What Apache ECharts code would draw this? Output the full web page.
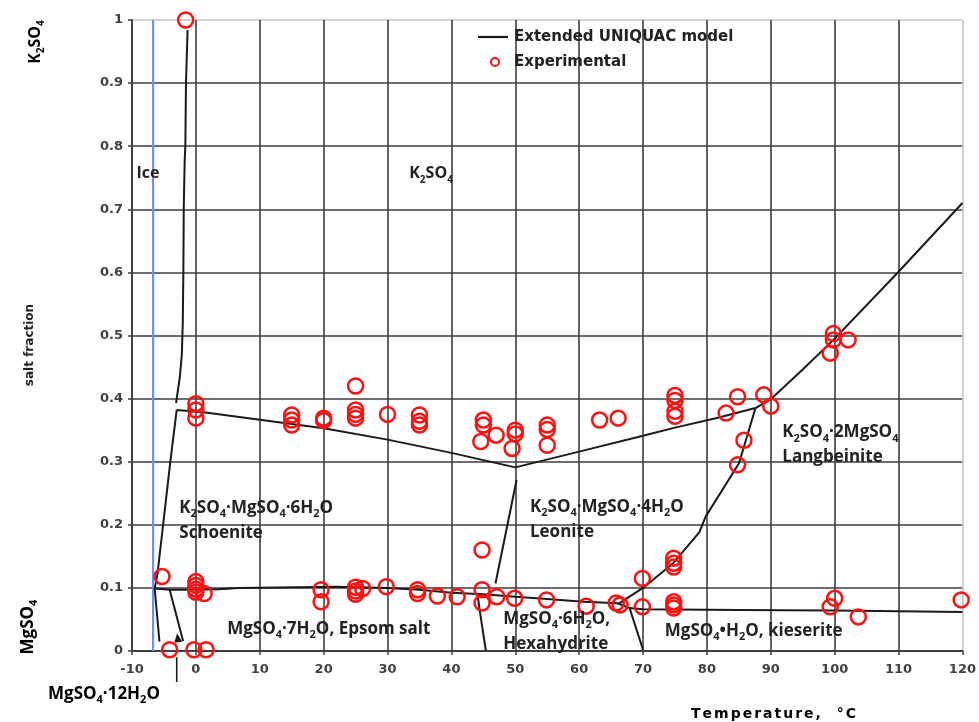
<!DOCTYPE html>
<html>
<head>
<meta charset="utf-8">
<script src="https://cdn.jsdelivr.net/npm/echarts@6/dist/echarts.min.js"></script>
<style>
  html, body { margin: 0; padding: 0; background: #fff; }
  #chart { width: 979px; height: 722px; }
</style>
</head>
<body>
<div id="chart"></div>
<script>
// K2SO4 – MgSO4 – H2O phase diagram: points are [temperature °C, salt fraction]

// Ice saturation line
const iceLine = [[-6.7, 0], [-6.7, 1]];

// Extended UNIQUAC model phase boundaries
const k2so4IceBoundary = [[-1.3, 0.984], [-1.55, 0.9], [-1.65, 0.8], [-1.75, 0.778], [-1.9, 0.7],
  [-1.96, 0.6], [-2.05, 0.52], [-2.2, 0.47], [-2.5, 0.435], [-3.1, 0.393]];
const schoeniteTop = [[-3.0, 0.382], [1.5, 0.378], [20, 0.353], [30, 0.335], [40, 0.314], [50, 0.291]];
const leoniteTop = [[50, 0.291], [60, 0.316], [70, 0.341], [75, 0.354], [81.4, 0.369], [87.6, 0.385]];
const langbeiniteTop = [[87.6, 0.385], [90, 0.399], [95, 0.446], [100, 0.495], [110, 0.601], [120, 0.71]];
const schoeniteLeft = [[-3.0, 0.382], [-4.0, 0.3], [-6.0, 0.123], [-6.45, 0.099]];
const langbeiniteLeoniteBoundary = [[87.6, 0.385], [86.1, 0.334], [85.0, 0.297], [79.8, 0.213],
  [78.8, 0.188], [74.8, 0.14], [70, 0.1], [66.3, 0.076]];
const lowSaltBoundary = [[-6.45, 0.099], [-4.1, 0.097], [-1.5, 0.097], [3.6, 0.098], [6.75, 0.1],
  [22, 0.102], [30, 0.1], [35, 0.097], [40, 0.0925], [45, 0.09], [50, 0.086], [55, 0.0825],
  [60.7, 0.078], [66, 0.0756], [67.9, 0.068], [70, 0.066], [85, 0.065], [100, 0.064], [120, 0.062]];
const iceDodecahydrateBoundary = [[-6.45, 0.099], [-5.7, 0.015]];
const dodecahydrateEpsomBoundary = [[-4.1, 0.097], [-2.0, 0.016]];
const epsomHexahydrateBoundary = [[44.1, 0.089], [44.5, 0.06], [45.4, 0.0]];
const hexahydriteLeoniteBoundary = [[50.2, 0.271], [46.9, 0.107]];
const hexahydriteKieseriteBoundary = [[67.9, 0.068], [70.0, 0.002]];

// Experimental solubility data
const expT = [
  -1.6,
  0, 0, 0,
  15, 15, 15,
  20, 20,
  25, 25, 25, 25,
  30,
  35, 35, 35,
  45, 45, 44.6, 47,
  50, 50, 49.5,
  55, 55, 55,
  63.2, 66.1,
  75, 75, 75, 75,
  83, 84.8, 88.9, 90, 85.8, 84.8,
  99.8, 99.8, 99.3, 102.1,
  -5.3,
  0, 0, 0, 0, 1.3,
  -4.1, -0.3, 1.6,
  19.6, 19.6,
  25, 25, 25, 26.1,
  29.8,
  34.7, 34.7,
  37.8, 40.9,
  44.8, 44.8, 44.8,
  47.1, 49.9, 54.9, 61.1,
  65.8, 66.4,
  69.9, 69.9,
  74.8, 74.8, 74.8,
  74.8, 74.8, 74.8,
  100, 99.3, 103.7, 119.8
];
const expFrac = [
  1.0,
  0.392, 0.382, 0.369,
  0.374, 0.366, 0.358,
  0.369, 0.365,
  0.42, 0.382, 0.375, 0.369,
  0.375,
  0.374, 0.364, 0.358,
  0.366, 0.358, 0.332, 0.342,
  0.35, 0.344, 0.321,
  0.358, 0.351, 0.326,
  0.366, 0.369,
  0.405, 0.397, 0.38, 0.372,
  0.377, 0.403, 0.406, 0.388, 0.334, 0.295,
  0.503, 0.493, 0.472, 0.493,
  0.118,
  0.11, 0.104, 0.098, 0.093, 0.091,
  0.002, 0.002, 0.002,
  0.097, 0.078,
  0.101, 0.095, 0.09, 0.099,
  0.102,
  0.097, 0.091,
  0.087, 0.086,
  0.16, 0.097, 0.076,
  0.086, 0.0835, 0.081, 0.071,
  0.076, 0.073,
  0.115, 0.07,
  0.147, 0.139, 0.133,
  0.078, 0.073, 0.068,
  0.0835, 0.07, 0.054, 0.081
];

// Solid phase field names
const regionNames = [
  'K2SO4·MgSO4·6H2O\nSchoenite',
  'K2SO4·MgSO4·4H2O\nLeonite',
  'K2SO4·2MgSO4\nLangbeinite',
  'MgSO4·7H2O, Epsom salt',
  'MgSO4·6H2O,\nHexahydrite',
  'MgSO4•H2O, kieserite',
  'Ice',
  'K2SO4'
];
const legendNames = ['Extended UNIQUAC model', 'Experimental'];

const FONT_AXIS = '"DejaVu Sans", Verdana, sans-serif';
const FONT_NOTE = '"Open Sans", "Noto Sans", sans-serif';
const INK = '#222222';
const GRID_DARK = '#3e3e3e';
const GRID_LIGHT = '#c4c4c4';
const MODEL_COLOR = '#1a1a1a';
const EXP_COLOR = '#ff1010';

// Anchor (top-left of text block) for each phase field name, in data units
const regionAnchors = [[-2.6, 0.246], [52.3, 0.248], [91.8, 0.366], [4.9, 0.055],
  [48.1, 0.071], [73.4, 0.052], [-9.3, 0.777], [33.4, 0.776]];
const regionSizes = [17, 17, 17, 17, 17, 17, 16, 16];

// Chemical formula -> rich text with subscripted stoichiometric digits
function chem(str, base) {
  return str.split('\n').map(line => {
    let out = '', buf = '', type = null, prevLetter = false, prevSub = false;
    const flush = () => { if (buf) out += '{' + type + '|' + buf + '}'; buf = ''; };
    for (const ch of line) {
      const isDigit = /\d/.test(ch);
      const t = isDigit && (prevLetter || prevSub) ? base + 'Sub' : base;
      prevSub = t !== base;
      prevLetter = /[A-Za-z]/.test(ch);
      if (t !== type) { flush(); type = t; }
      buf += ch;
    }
    flush();
    return out;
  }).join('\n');
}

function richStyles(size, family, lineHeight) {
  const r = {};
  r['t' + size] = { fontFamily: family, fontWeight: 'bold', fontSize: size, color: INK, lineHeight: lineHeight };
  r['t' + size + 'Sub'] = { fontFamily: family, fontWeight: 'bold', fontSize: Math.round(size * 0.65), color: INK,
    lineHeight: lineHeight, verticalAlign: 'bottom', padding: [0, 0, 1, 0] };
  return r;
}

const rich = Object.assign({}, richStyles(17, FONT_NOTE, 25), richStyles(16, FONT_NOTE, 25));

// Letter-spaced axis caption
const captionRich = { c: { fontFamily: FONT_AXIS, fontWeight: 'bold', fontSize: 14, color: '#575757', padding: [0, 1, 0, 1] } };
const spaced = s => Array.from(s).map(ch => '{c|' + ch + '}').join('');

const modelLines = [k2so4IceBoundary, schoeniteTop, leoniteTop, langbeiniteTop, schoeniteLeft,
  langbeiniteLeoniteBoundary, lowSaltBoundary, iceDodecahydrateBoundary, dodecahydrateEpsomBoundary,
  epsomHexahydrateBoundary, hexahydriteLeoniteBoundary, hexahydriteKieseriteBoundary];

const series = [];

series.push({
  name: 'Ice', type: 'line', data: iceLine, symbol: 'none', silent: true, z: 2,
  lineStyle: { color: '#6f8ff6', width: 2.2 }
});

modelLines.forEach(pts => series.push({
  name: legendNames[0], type: 'line', data: pts, symbol: 'none', silent: true, z: 3,
  itemStyle: { color: MODEL_COLOR }, lineStyle: { color: MODEL_COLOR, width: 2 }
}));

// pointer from the MgSO4·12H2O caption to its small field
series.push({
  name: 'pointer', type: 'line', data: [[-3.0, -0.049], [-3.0, -0.01]], symbol: 'none', clip: false,
  silent: true, z: 3, lineStyle: { color: MODEL_COLOR, width: 1.6 }
});
series.push({
  name: 'pointerHead', type: 'scatter', data: [[-2.85, 0.021]], symbol: 'triangle', symbolSize: [8, 9],
  symbolRotate: 8, itemStyle: { color: MODEL_COLOR, opacity: 1 }, silent: true, z: 3
});

series.push({
  name: legendNames[1], type: 'scatter', clip: false, z: 5,
  data: expT.map((t, i) => [t, expFrac[i]]),
  symbol: 'circle', symbolSize: 15,
  itemStyle: { color: 'rgba(255,255,255,0)', borderColor: EXP_COLOR, borderWidth: 2.5, opacity: 1 }
});

series.push({
  name: 'fields', type: 'scatter', silent: true, z: 6, symbolSize: 0,
  itemStyle: { opacity: 1 },
  data: regionNames.map((n, i) => ({
    value: regionAnchors[i],
    label: {
      show: true, position: [0, 0], align: 'left', verticalAlign: 'top',
      color: INK, fontWeight: 'bold', fontFamily: FONT_NOTE, fontSize: regionSizes[i],
      textBorderWidth: 0,
      formatter: chem(n, 't' + regionSizes[i]), rich: rich
    }
  }))
});

const yLineColors = Array(10).fill(GRID_DARK).concat([GRID_LIGHT]);
const xLineColors = Array(13).fill(GRID_DARK).concat([GRID_LIGHT]);

const axisLabelStyle = { fontFamily: FONT_AXIS, fontWeight: 'bold', fontSize: 13, color: '#404040' };
const legendText = { fontFamily: FONT_AXIS, fontWeight: 'bold', fontSize: 15, fill: INK,
  align: 'left', verticalAlign: 'middle' };

const option = {
  animation: false,
  backgroundColor: '#ffffff',
  grid: { left: 132, right: 11, top: 20, bottom: 71, containLabel: false },
  xAxis: {
    type: 'value', min: -10, max: 120, interval: 10,
    axisLine: { show: true, onZero: false, lineStyle: { color: GRID_DARK, width: 1.8 } },
    axisTick: { show: true, length: 4, lineStyle: { color: GRID_DARK, width: 1.5 } },
    axisLabel: Object.assign({ margin: 12 }, axisLabelStyle),
    splitLine: { show: true, lineStyle: { color: xLineColors, width: 1.6 } }
  },
  yAxis: {
    type: 'value', min: 0, max: 1, interval: 0.1,
    axisLine: { show: true, onZero: false, lineStyle: { color: GRID_DARK, width: 1.8 } },
    axisTick: { show: true, length: 4, lineStyle: { color: GRID_DARK, width: 1.5 } },
    axisLabel: Object.assign({ margin: 9 }, axisLabelStyle),
    splitLine: { show: true, lineStyle: { color: yLineColors, width: 1.6 } }
  },
  graphic: [
    // legend
    { type: 'line', shape: { x1: 478, y1: 37, x2: 508, y2: 37 }, style: { stroke: MODEL_COLOR, lineWidth: 2.2 }, z: 10 },
    { type: 'circle', shape: { cx: 495, cy: 62, r: 4 }, style: { fill: 'none', stroke: EXP_COLOR, lineWidth: 2 }, z: 10 },
    { type: 'text', x: 514, y: 37, style: Object.assign({ text: legendNames[0] }, legendText), z: 10 },
    { type: 'text', x: 514, y: 62, style: Object.assign({ text: legendNames[1] }, legendText), z: 10 },
    // side and bottom captions
    { type: 'text', x: 35, y: 42, rotation: Math.PI / 2,
      style: { text: chem('K2SO4', 't16'), rich: rich, align: 'center', verticalAlign: 'middle' } },
    { type: 'text', x: 30, y: 345, rotation: Math.PI / 2,
      style: { text: 'salt fraction', fontFamily: FONT_AXIS, fontWeight: 'bold', fontSize: 12, fill: INK,
        align: 'center', verticalAlign: 'middle' } },
    { type: 'text', x: 28, y: 627, rotation: Math.PI / 2,
      style: { text: chem('MgSO4', 't17'), rich: rich, align: 'center', verticalAlign: 'middle' } },
    { type: 'text', x: 48, y: 694,
      style: { text: chem('MgSO4·12H2O', 't17'), rich: rich, align: 'left', verticalAlign: 'middle' } },
    { type: 'text', x: 690, y: 714,
      style: { text: spaced('Temperature,  °C'), rich: captionRich, align: 'left', verticalAlign: 'middle' } }
  ],
  series: series
};

const chart = echarts.init(document.getElementById('chart'), null, { renderer: 'canvas' });
chart.setOption(option);
</script>
</body>
</html>
